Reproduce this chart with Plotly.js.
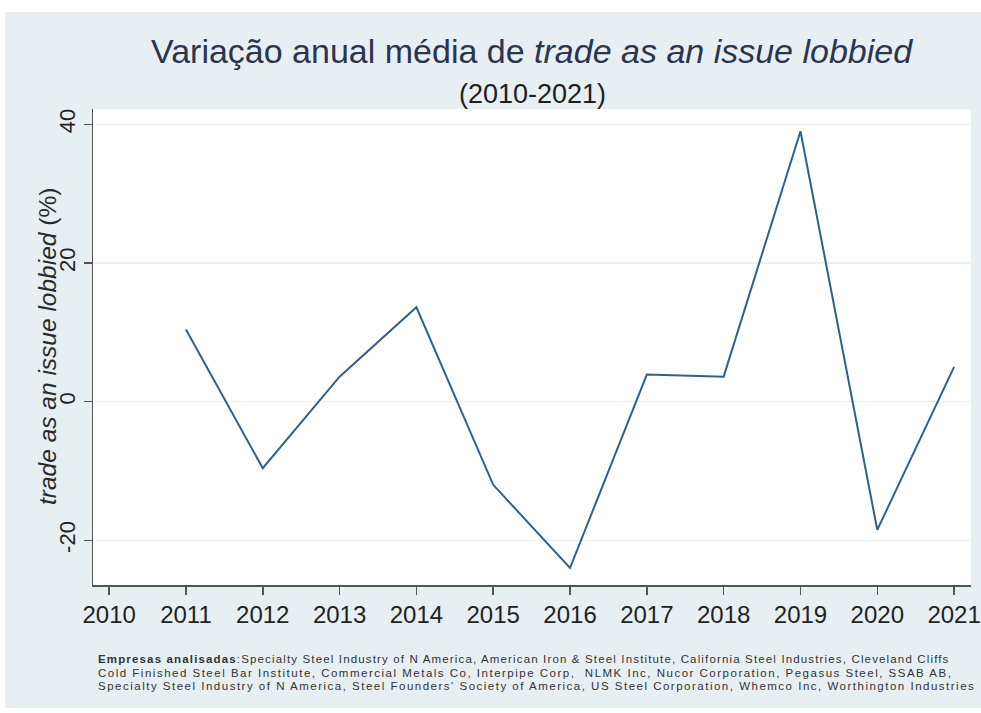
<!DOCTYPE html>
<html>
<head>
<meta charset="utf-8">
<script src="https://cdn.plot.ly/plotly-3.0.1.min.js"></script>
<style>
  html, body { margin: 0; padding: 0; background: #ffffff; }
  #chart { width: 981px; height: 713px; }
  g.annotation[data-index="3"] text { letter-spacing: 1.15px; }
  g.annotation[data-index="4"] text,
  g.annotation[data-index="5"] text { letter-spacing: 1.5px; }
</style>
</head>
<body>
<div id="chart"></div>
<script>
// ---- Data ----
const years = [2010, 2011, 2012, 2013, 2014, 2015, 2016, 2017, 2018, 2019, 2020, 2021];
const tradeVariation = [null, 10.4, -9.6, 3.6, 13.6, -12.0, -24.0, 3.9, 3.6, 39.0, -18.5, 5.0];
const yTickValues = [-20, 0, 20, 40];
const yTickLabels = ['-20', '0', '20', '40'];

const titleText = 'Variação anual média de <i>trade as an issue lobbied</i>';
const subtitleText = '(2010-2021)';
const yTitleText = '<i>trade as an issue lobbied</i> (%)';
const noteLines = [
  '<b>Empresas analisadas</b>:Specialty Steel Industry of N America, American Iron &amp; Steel Institute, California Steel Industries, Cleveland Cliffs',
  'Cold Finished Steel Bar Institute, Commercial Metals Co, Interpipe Corp,  NLMK Inc, Nucor Corporation, Pegasus Steel, SSAB AB,',
  'Specialty Steel Industry of N America, Steel Founders\' Society of America, US Steel Corporation, Whemco Inc, Worthington Industries'
];

// ---- Geometry helpers (pixel -> paper) ----
const W = 981, H = 713;
const M = { l: 93, r: 10, t: 109, b: 128 };
const PW = W - M.l - M.r, PH = H - M.t - M.b;
const px = x => (x - M.l) / PW;
const py = y => (H - M.b - y) / PH;

const FONT = 'Liberation Sans, Arial, sans-serif';
const BG = '#e8eff2';

const trace = {
  x: years,
  y: tradeVariation,
  type: 'scatter',
  mode: 'lines',
  connectgaps: false,
  line: { color: '#31608c', width: 2 },
  hoverinfo: 'x+y'
};

const annotations = [
  { text: titleText, xref: 'paper', yref: 'paper', x: 0.5, y: py(51), xanchor: 'center', yanchor: 'middle',
    showarrow: false, font: { family: FONT, size: 34, color: '#2b3550' } },
  { text: subtitleText, xref: 'paper', yref: 'paper', x: 0.5, y: py(94), xanchor: 'center', yanchor: 'middle',
    showarrow: false, font: { family: FONT, size: 27, color: '#1e1e1e' } },
  { text: yTitleText, xref: 'paper', yref: 'paper', x: px(47), y: 0.5, xanchor: 'center', yanchor: 'middle',
    textangle: -90, showarrow: false, font: { family: FONT, size: 24.5, color: '#2a2a2a' } }
];
const noteY = [659, 672.5, 686];
noteLines.forEach((t, i) => {
  annotations.push({ text: t, xref: 'paper', yref: 'paper', x: px(96), y: py(noteY[i]),
    xanchor: 'left', yanchor: 'middle', showarrow: false, align: 'left',
    font: { family: FONT, size: 11.5, color: '#333333' } });
});

const layout = {
  width: W, height: H,
  margin: M,
  paper_bgcolor: BG,
  plot_bgcolor: '#ffffff',
  showlegend: false,
  xaxis: {
    range: [2009.79, 2021.22],
    tickmode: 'array', tickvals: years, ticktext: years.map(String),
    ticks: 'outside', ticklen: 8, tickwidth: 1.5, tickcolor: '#555555',
    showline: true, linecolor: '#555555', linewidth: 1.5,
    showgrid: false, zeroline: false,
    tickfont: { family: FONT, size: 24, color: '#222222' }
  },
  yaxis: {
    range: [-26.45, 42.2],
    tickmode: 'array', tickvals: yTickValues, ticktext: yTickLabels,
    ticks: 'outside', ticklen: 8, tickwidth: 1.5, tickcolor: '#555555',
    tickangle: -90,
    showline: true, linecolor: '#555555', linewidth: 1.5,
    showgrid: true, gridcolor: '#e8f1f2', gridwidth: 1.5, zeroline: false,
    tickfont: { family: FONT, size: 22, color: '#222222' }
  },
  annotations: annotations,
  shapes: [
    { type: 'rect', xref: 'paper', yref: 'paper', x0: px(-5), x1: px(W + 5), y0: py(12), y1: py(-5),
      fillcolor: '#ffffff', line: { width: 0 }, layer: 'above' },
    { type: 'rect', xref: 'paper', yref: 'paper', x0: px(-5), x1: px(5), y0: py(H + 5), y1: py(-5),
      fillcolor: '#ffffff', line: { width: 0 }, layer: 'above' },
    { type: 'rect', xref: 'paper', yref: 'paper', x0: px(-5), x1: px(W + 5), y0: py(H + 5), y1: py(708),
      fillcolor: '#ffffff', line: { width: 0 }, layer: 'above' }
  ]
};

Plotly.newPlot('chart', [trace], layout, { displayModeBar: false, staticPlot: true });
</script>
</body>
</html>
